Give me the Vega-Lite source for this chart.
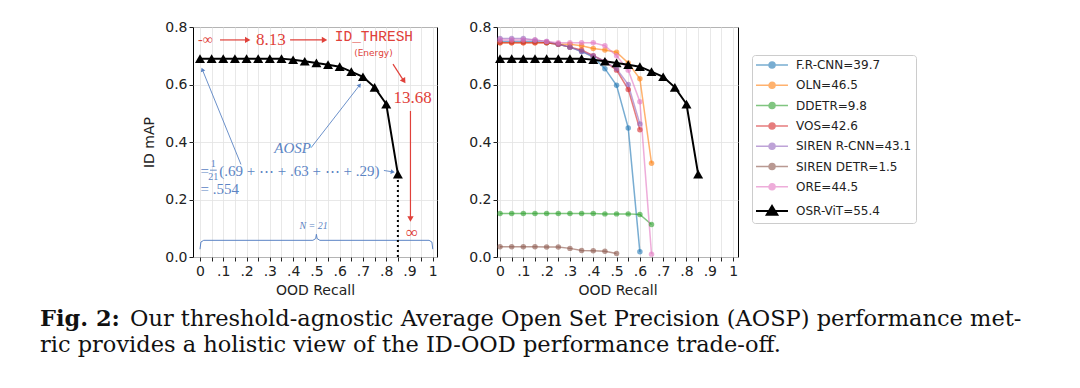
{
  "$schema": "https://vega.github.io/schema/vega-lite/v6.json",
  "background": "white",
  "padding": {"left": 40, "top": 19, "right": 0, "bottom": 0},
  "spacing": 1,
  "config": {
    "view": {"stroke": "#000000", "strokeWidth": 1},
    "axis": {
      "labelFont": "DejaVu Sans", "labelFontSize": 14, "labelColor": "#222222",
      "titleFont": "DejaVu Sans", "titleFontSize": 14, "titleFontWeight": "normal", "titleColor": "#222222",
      "tickColor": "#222222", "tickSize": 4, "tickWidth": 1,
      "gridColor": "#e2e2e2", "gridWidth": 0.8, "domain": false
    }
  },
  "datasets": {
    "curves": [
      {"series": "F.R-CNN=39.7", "x": 0.00, "y": 0.750}, {"series": "F.R-CNN=39.7", "x": 0.05, "y": 0.750}, {"series": "F.R-CNN=39.7", "x": 0.10, "y": 0.750}, {"series": "F.R-CNN=39.7", "x": 0.15, "y": 0.750}, {"series": "F.R-CNN=39.7", "x": 0.20, "y": 0.745}, {"series": "F.R-CNN=39.7", "x": 0.25, "y": 0.740}, {"series": "F.R-CNN=39.7", "x": 0.30, "y": 0.730}, {"series": "F.R-CNN=39.7", "x": 0.35, "y": 0.715}, {"series": "F.R-CNN=39.7", "x": 0.40, "y": 0.695}, {"series": "F.R-CNN=39.7", "x": 0.45, "y": 0.655}, {"series": "F.R-CNN=39.7", "x": 0.50, "y": 0.597}, {"series": "F.R-CNN=39.7", "x": 0.55, "y": 0.449}, {"series": "F.R-CNN=39.7", "x": 0.60, "y": 0.018},
      {"series": "OLN=46.5", "x": 0.00, "y": 0.745}, {"series": "OLN=46.5", "x": 0.05, "y": 0.745}, {"series": "OLN=46.5", "x": 0.10, "y": 0.745}, {"series": "OLN=46.5", "x": 0.15, "y": 0.745}, {"series": "OLN=46.5", "x": 0.20, "y": 0.745}, {"series": "OLN=46.5", "x": 0.25, "y": 0.740}, {"series": "OLN=46.5", "x": 0.30, "y": 0.740}, {"series": "OLN=46.5", "x": 0.35, "y": 0.735}, {"series": "OLN=46.5", "x": 0.40, "y": 0.725}, {"series": "OLN=46.5", "x": 0.45, "y": 0.720}, {"series": "OLN=46.5", "x": 0.50, "y": 0.712}, {"series": "OLN=46.5", "x": 0.55, "y": 0.675}, {"series": "OLN=46.5", "x": 0.60, "y": 0.620}, {"series": "OLN=46.5", "x": 0.65, "y": 0.326},
      {"series": "DDETR=9.8", "x": 0.00, "y": 0.151}, {"series": "DDETR=9.8", "x": 0.05, "y": 0.151}, {"series": "DDETR=9.8", "x": 0.10, "y": 0.151}, {"series": "DDETR=9.8", "x": 0.15, "y": 0.151}, {"series": "DDETR=9.8", "x": 0.20, "y": 0.151}, {"series": "DDETR=9.8", "x": 0.25, "y": 0.151}, {"series": "DDETR=9.8", "x": 0.30, "y": 0.151}, {"series": "DDETR=9.8", "x": 0.35, "y": 0.151}, {"series": "DDETR=9.8", "x": 0.40, "y": 0.151}, {"series": "DDETR=9.8", "x": 0.45, "y": 0.150}, {"series": "DDETR=9.8", "x": 0.50, "y": 0.150}, {"series": "DDETR=9.8", "x": 0.55, "y": 0.150}, {"series": "DDETR=9.8", "x": 0.60, "y": 0.148}, {"series": "DDETR=9.8", "x": 0.65, "y": 0.113},
      {"series": "VOS=42.6", "x": 0.00, "y": 0.745}, {"series": "VOS=42.6", "x": 0.05, "y": 0.745}, {"series": "VOS=42.6", "x": 0.10, "y": 0.745}, {"series": "VOS=42.6", "x": 0.15, "y": 0.745}, {"series": "VOS=42.6", "x": 0.20, "y": 0.745}, {"series": "VOS=42.6", "x": 0.25, "y": 0.740}, {"series": "VOS=42.6", "x": 0.30, "y": 0.730}, {"series": "VOS=42.6", "x": 0.35, "y": 0.720}, {"series": "VOS=42.6", "x": 0.40, "y": 0.700}, {"series": "VOS=42.6", "x": 0.45, "y": 0.680}, {"series": "VOS=42.6", "x": 0.50, "y": 0.650}, {"series": "VOS=42.6", "x": 0.55, "y": 0.583}, {"series": "VOS=42.6", "x": 0.60, "y": 0.443},
      {"series": "SIREN R-CNN=43.1", "x": 0.00, "y": 0.760}, {"series": "SIREN R-CNN=43.1", "x": 0.05, "y": 0.760}, {"series": "SIREN R-CNN=43.1", "x": 0.10, "y": 0.760}, {"series": "SIREN R-CNN=43.1", "x": 0.15, "y": 0.755}, {"series": "SIREN R-CNN=43.1", "x": 0.20, "y": 0.750}, {"series": "SIREN R-CNN=43.1", "x": 0.25, "y": 0.740}, {"series": "SIREN R-CNN=43.1", "x": 0.30, "y": 0.730}, {"series": "SIREN R-CNN=43.1", "x": 0.35, "y": 0.715}, {"series": "SIREN R-CNN=43.1", "x": 0.40, "y": 0.700}, {"series": "SIREN R-CNN=43.1", "x": 0.45, "y": 0.680}, {"series": "SIREN R-CNN=43.1", "x": 0.50, "y": 0.655}, {"series": "SIREN R-CNN=43.1", "x": 0.55, "y": 0.600}, {"series": "SIREN R-CNN=43.1", "x": 0.60, "y": 0.463},
      {"series": "SIREN DETR=1.5", "x": 0.00, "y": 0.036}, {"series": "SIREN DETR=1.5", "x": 0.05, "y": 0.036}, {"series": "SIREN DETR=1.5", "x": 0.10, "y": 0.036}, {"series": "SIREN DETR=1.5", "x": 0.15, "y": 0.036}, {"series": "SIREN DETR=1.5", "x": 0.20, "y": 0.035}, {"series": "SIREN DETR=1.5", "x": 0.25, "y": 0.035}, {"series": "SIREN DETR=1.5", "x": 0.30, "y": 0.030}, {"series": "SIREN DETR=1.5", "x": 0.35, "y": 0.023}, {"series": "SIREN DETR=1.5", "x": 0.40, "y": 0.022}, {"series": "SIREN DETR=1.5", "x": 0.45, "y": 0.020}, {"series": "SIREN DETR=1.5", "x": 0.50, "y": 0.012},
      {"series": "ORE=44.5", "x": 0.00, "y": 0.755}, {"series": "ORE=44.5", "x": 0.05, "y": 0.755}, {"series": "ORE=44.5", "x": 0.10, "y": 0.755}, {"series": "ORE=44.5", "x": 0.15, "y": 0.755}, {"series": "ORE=44.5", "x": 0.20, "y": 0.750}, {"series": "ORE=44.5", "x": 0.25, "y": 0.745}, {"series": "ORE=44.5", "x": 0.30, "y": 0.745}, {"series": "ORE=44.5", "x": 0.35, "y": 0.745}, {"series": "ORE=44.5", "x": 0.40, "y": 0.745}, {"series": "ORE=44.5", "x": 0.45, "y": 0.735}, {"series": "ORE=44.5", "x": 0.50, "y": 0.700}, {"series": "ORE=44.5", "x": 0.55, "y": 0.650}, {"series": "ORE=44.5", "x": 0.60, "y": 0.540}, {"series": "ORE=44.5", "x": 0.65, "y": 0.010},
      {"series": "OSR-ViT=55.4", "x": 0.00, "y": 0.690}, {"series": "OSR-ViT=55.4", "x": 0.05, "y": 0.690}, {"series": "OSR-ViT=55.4", "x": 0.10, "y": 0.690}, {"series": "OSR-ViT=55.4", "x": 0.15, "y": 0.690}, {"series": "OSR-ViT=55.4", "x": 0.20, "y": 0.690}, {"series": "OSR-ViT=55.4", "x": 0.25, "y": 0.690}, {"series": "OSR-ViT=55.4", "x": 0.30, "y": 0.690}, {"series": "OSR-ViT=55.4", "x": 0.35, "y": 0.690}, {"series": "OSR-ViT=55.4", "x": 0.40, "y": 0.686}, {"series": "OSR-ViT=55.4", "x": 0.45, "y": 0.681}, {"series": "OSR-ViT=55.4", "x": 0.50, "y": 0.675}, {"series": "OSR-ViT=55.4", "x": 0.55, "y": 0.669}, {"series": "OSR-ViT=55.4", "x": 0.60, "y": 0.662}, {"series": "OSR-ViT=55.4", "x": 0.65, "y": 0.645}, {"series": "OSR-ViT=55.4", "x": 0.70, "y": 0.627}, {"series": "OSR-ViT=55.4", "x": 0.75, "y": 0.590}, {"series": "OSR-ViT=55.4", "x": 0.80, "y": 0.532}, {"series": "OSR-ViT=55.4", "x": 0.85, "y": 0.288}
    ],
    "brace": [
      {"i": 0, "x": 0.0, "y": 0.027}, {"i": 1, "x": 0.004, "y": 0.052}, {"i": 2, "x": 0.016, "y": 0.058}, {"i": 3, "x": 0.485, "y": 0.058}, {"i": 4, "x": 0.497, "y": 0.064}, {"i": 5, "x": 0.5, "y": 0.079}, {"i": 6, "x": 0.503, "y": 0.064}, {"i": 7, "x": 0.515, "y": 0.058}, {"i": 8, "x": 0.984, "y": 0.058}, {"i": 9, "x": 0.996, "y": 0.052}, {"i": 10, "x": 1.0, "y": 0.027}
    ],
    "drop": [{"x": 0.85, "y": 0.0, "y2": 0.288}],
    "arrows": [
      {"grp": "red", "x": 0.086, "y": 0.755, "x2": 0.205, "y2": 0.755},
      {"grp": "red", "x": 0.387, "y": 0.755, "x2": 0.535, "y2": 0.755},
      {"grp": "red", "x": 0.829, "y": 0.671, "x2": 0.876, "y2": 0.612},
      {"grp": "red", "x": 0.904, "y": 0.508, "x2": 0.904, "y2": 0.132},
      {"grp": "blue", "x": 0.176, "y": 0.322, "x2": 0.01, "y2": 0.652},
      {"grp": "blue", "x": 0.477, "y": 0.38, "x2": 0.686, "y2": 0.598},
      {"grp": "blue", "x": 0.79, "y": 0.301, "x2": 0.828, "y2": 0.296},
      {"grp": "bar", "x": 0.043, "y": 0.302, "x2": 0.072, "y2": 0.302}
    ],
    "notes": [
      {"kind": "redsmall", "t": "-∞", "x": -0.008, "y": 0.755},
      {"kind": "red", "t": "8.13", "x": 0.305, "y": 0.755},
      {"kind": "mono", "t": "ID_THRESH", "x": 0.747, "y": 0.765},
      {"kind": "energy", "t": "(Energy)", "x": 0.745, "y": 0.71},
      {"kind": "red", "t": "13.68", "x": 0.913, "y": 0.553},
      {"kind": "red", "t": "∞", "x": 0.911, "y": 0.085},
      {"kind": "blue", "t": "=", "x": 0.002, "y": 0.3},
      {"kind": "frac", "t": "1", "x": 0.057, "y": 0.322},
      {"kind": "frac", "t": "21", "x": 0.057, "y": 0.279},
      {"kind": "blue", "t": "(.69 + ⋯ + .63 + ⋯ + .29)", "x": 0.083, "y": 0.3},
      {"kind": "blue", "t": "=  .554", "x": 0.002, "y": 0.235},
      {"kind": "italic", "t": "AOSP", "x": 0.398, "y": 0.38},
      {"kind": "nlabel", "t": "N = 21", "x": 0.488, "y": 0.108}
    ],
    "caption": [
      {"part": "fig", "line": 1, "text": "Fig. 2:"},
      {"part": "l1", "line": 1, "text": "Our threshold-agnostic Average Open Set Precision (AOSP) performance met-"},
      {"part": "l2", "line": 2, "text": "ric provides a holistic view of the ID-OOD performance trade-off."}
    ]
  },
  "vconcat": [
    {
      "spacing": 30,
      "resolve": {"scale": {"color": "independent"}, "legend": {"color": "independent"}},
      "hconcat": [
        {
          "width": 72,
          "height": 230,
          "view": {"stroke": null},
          "data": {"values": [{"t": ""}]},
          "mark": {"type": "text"},
          "encoding": {"text": {"field": "t"}}
        },
        {
          "width": 244,
          "height": 230,
          "encoding": {
            "x": {"field": "x", "type": "quantitative",
              "scale": {"domain": [-0.03, 1.018], "nice": false, "zero": false},
              "axis": {"title": "OOD Recall", "values": [0, 0.05, 0.1, 0.15, 0.2, 0.25, 0.3, 0.35, 0.4, 0.45, 0.5, 0.55, 0.6, 0.65, 0.7, 0.75, 0.8, 0.85, 0.9, 0.95, 1],
                "labelExpr": "round(datum.value*20) % 2 == 1 ? '' : (datum.value == 0 ? '0' : (datum.value > 0.999 ? '1' : replace(format(datum.value, '.1f'), '0.', '.')))",
                "labelFlush": false, "labelOverlap": false, "labelPadding": 3, "titlePadding": 5}},
            "y": {"field": "y", "type": "quantitative",
              "scale": {"domain": [0, 0.8], "nice": false, "zero": true},
              "axis": {"title": "ID mAP", "values": [0, 0.2, 0.4, 0.6, 0.8], "format": ".1f", "labelPadding": 2, "titlePadding": 8}}
          },
          "layer": [
            {"data": {"name": "brace"}, "mark": {"type": "line", "color": "#5b84c4", "strokeWidth": 1}, "encoding": {"order": {"field": "i", "type": "quantitative"}}},
            {"data": {"name": "drop"}, "mark": {"type": "rule", "color": "#000000", "strokeWidth": 2, "strokeDash": [2, 3]}, "encoding": {"y2": {"field": "y2"}}},
            {"data": {"name": "curves"}, "transform": [{"filter": "datum.series === 'OSR-ViT=55.4'"}], "mark": {"type": "line", "color": "#000000", "strokeWidth": 2}},
            {"data": {"name": "curves"}, "transform": [{"filter": "datum.series === 'OSR-ViT=55.4'"}], "mark": {"type": "point", "shape": "triangle-up", "filled": true, "color": "#000000", "size": 100, "opacity": 1}},
            {"data": {"name": "arrows"}, "transform": [{"filter": "datum.grp === 'red'"}], "mark": {"type": "rule", "color": "#e0413a", "strokeWidth": 1.2}, "encoding": {"x2": {"field": "x2"}, "y2": {"field": "y2"}}},
            {"data": {"name": "arrows"}, "transform": [{"filter": "datum.grp !== 'red'"}], "mark": {"type": "rule", "color": "#5b84c4", "strokeWidth": 0.9}, "encoding": {"x2": {"field": "x2"}, "y2": {"field": "y2"}}},
            {"data": {"name": "arrows"}, "transform": [{"filter": "datum.grp === 'red'"}, {"calculate": "atan2((datum.x2-datum.x)*232.7, (datum.y2-datum.y)*287.5)*180/PI", "as": "ang"}], "mark": {"type": "point", "shape": "triangle-up", "filled": true, "color": "#e0413a", "size": 40, "opacity": 1}, "encoding": {"x": {"field": "x2", "type": "quantitative"}, "y": {"field": "y2", "type": "quantitative"}, "angle": {"field": "ang", "type": "quantitative", "scale": null}}},
            {"data": {"name": "arrows"}, "transform": [{"filter": "datum.grp === 'blue'"}, {"calculate": "atan2((datum.x2-datum.x)*232.7, (datum.y2-datum.y)*287.5)*180/PI", "as": "ang"}], "mark": {"type": "point", "shape": "triangle-up", "filled": true, "color": "#5b84c4", "size": 22, "opacity": 1}, "encoding": {"x": {"field": "x2", "type": "quantitative"}, "y": {"field": "y2", "type": "quantitative"}, "angle": {"field": "ang", "type": "quantitative", "scale": null}}},
            {"data": {"name": "notes"}, "transform": [{"filter": "datum.kind === 'red'"}], "mark": {"type": "text", "font": "Liberation Serif", "fontSize": 17, "color": "#e0413a", "align": "center", "baseline": "middle"}, "encoding": {"text": {"field": "t"}}},
            {"data": {"name": "notes"}, "transform": [{"filter": "datum.kind === 'redsmall'"}], "mark": {"type": "text", "font": "Liberation Serif", "fontSize": 14, "color": "#e0413a", "align": "left", "baseline": "middle"}, "encoding": {"text": {"field": "t"}}},
            {"data": {"name": "notes"}, "transform": [{"filter": "datum.kind === 'mono'"}], "mark": {"type": "text", "font": "Liberation Mono", "fontSize": 14.5, "color": "#e0413a", "align": "center", "baseline": "middle"}, "encoding": {"text": {"field": "t"}}},
            {"data": {"name": "notes"}, "transform": [{"filter": "datum.kind === 'energy'"}], "mark": {"type": "text", "font": "DejaVu Sans", "fontSize": 9, "color": "#e0413a", "align": "center", "baseline": "middle"}, "encoding": {"text": {"field": "t"}}},
            {"data": {"name": "notes"}, "transform": [{"filter": "datum.kind === 'blue'"}], "mark": {"type": "text", "font": "Liberation Serif", "fontSize": 15, "color": "#5b84c4", "align": "left", "baseline": "middle"}, "encoding": {"text": {"field": "t"}}},
            {"data": {"name": "notes"}, "transform": [{"filter": "datum.kind === 'frac'"}], "mark": {"type": "text", "font": "Liberation Serif", "fontSize": 10, "color": "#5b84c4", "align": "center", "baseline": "middle"}, "encoding": {"text": {"field": "t"}}},
            {"data": {"name": "notes"}, "transform": [{"filter": "datum.kind === 'italic'"}], "mark": {"type": "text", "font": "Liberation Serif", "fontStyle": "italic", "fontSize": 15, "color": "#5b84c4", "align": "center", "baseline": "middle"}, "encoding": {"text": {"field": "t"}}},
            {"data": {"name": "notes"}, "transform": [{"filter": "datum.kind === 'nlabel'"}], "mark": {"type": "text", "font": "Liberation Serif", "fontStyle": "italic", "fontSize": 10, "color": "#5b84c4", "align": "center", "baseline": "middle"}, "encoding": {"text": {"field": "t"}}}
          ]
        },
        {
          "width": 241,
          "height": 230,
          "data": {"name": "curves"},
          "encoding": {
            "x": {"field": "x", "type": "quantitative",
              "scale": {"domain": [-0.013, 1.021], "nice": false, "zero": false},
              "axis": {"title": "OOD Recall", "values": [0, 0.05, 0.1, 0.15, 0.2, 0.25, 0.3, 0.35, 0.4, 0.45, 0.5, 0.55, 0.6, 0.65, 0.7, 0.75, 0.8, 0.85, 0.9, 0.95, 1],
                "labelExpr": "round(datum.value*20) % 2 == 1 ? '' : (datum.value == 0 ? '0' : (datum.value > 0.999 ? '1' : replace(format(datum.value, '.1f'), '0.', '.')))",
                "labelFlush": false, "labelOverlap": false, "labelPadding": 3, "titlePadding": 5}},
            "y": {"field": "y", "type": "quantitative",
              "scale": {"domain": [0, 0.8], "nice": false, "zero": true},
              "axis": {"title": null, "values": [0, 0.2, 0.4, 0.6, 0.8], "format": ".1f", "labelPadding": 2}},
            "color": {"field": "series", "type": "nominal",
              "scale": {"domain": ["F.R-CNN=39.7", "OLN=46.5", "DDETR=9.8", "VOS=42.6", "SIREN R-CNN=43.1", "SIREN DETR=1.5", "ORE=44.5", "OSR-ViT=55.4"],
                "range": ["#1f77b4", "#ff7f0e", "#2ca02c", "#d62728", "#9467bd", "#8c564b", "#e377c2", "#000000"]},
              "legend": {
                "orient": "none", "legendX": 255, "legendY": 28, "title": null,
                "symbolType": {"expr": "datum.value === 'OSR-ViT=55.4' ? 'M-1,0H4.33M1.67,-0.85L2.55,0.6L0.79,0.6Z' : 'M-1,0H4.33M1.17,0A0.5,0.5 0 1,0 2.17,0A0.5,0.5 0 1,0 1.17,0'"},
                "symbolSize": 144,
                "symbolStrokeWidth": {"expr": "datum.value === 'OSR-ViT=55.4' ? 2 : 1.5"},
                "symbolOpacity": {"expr": "datum.value === 'OSR-ViT=55.4' ? 1 : 0.6"},
                "symbolFillColor": {"expr": "['#1f77b4','#ff7f0e','#2ca02c','#d62728','#9467bd','#8c564b','#e377c2','#000000'][indexof(['F.R-CNN=39.7','OLN=46.5','DDETR=9.8','VOS=42.6','SIREN R-CNN=43.1','SIREN DETR=1.5','ORE=44.5','OSR-ViT=55.4'], datum.value)]"},
                "labelFont": "DejaVu Sans", "labelFontSize": 12, "labelColor": "#222222", "labelOffset": 28,
                "strokeColor": "#cccccc", "fillColor": "#ffffff", "padding": 4, "cornerRadius": 3, "rowPadding": 8.3
              }}
          },
          "layer": [
            {"transform": [{"filter": "datum.series !== 'OSR-ViT=55.4'"}], "mark": {"type": "line", "strokeWidth": 1.5, "opacity": 0.6}},
            {"transform": [{"filter": "datum.series !== 'OSR-ViT=55.4'"}], "mark": {"type": "point", "shape": "circle", "filled": true, "size": 30, "opacity": 0.6}},
            {"transform": [{"filter": "datum.series === 'OSR-ViT=55.4'"}], "mark": {"type": "line", "strokeWidth": 2, "opacity": 1}},
            {"transform": [{"filter": "datum.series === 'OSR-ViT=55.4'"}], "mark": {"type": "point", "shape": "triangle-up", "filled": true, "size": 100, "opacity": 1}}
          ]
        }
      ]
    },
    {
      "width": 1000,
      "height": 53,
      "data": {"name": "caption"},
      "view": {"stroke": null},
      "encoding": {
        "y": {"field": "line", "type": "quantitative", "scale": {"domain": [0, 2], "reverse": true, "nice": false}, "axis": null},
        "text": {"field": "text"}
      },
      "layer": [
        {"transform": [{"filter": "datum.part === 'fig'"}], "mark": {"type": "text", "font": "DejaVu Serif", "fontWeight": "bold", "fontSize": 22.5, "align": "left", "baseline": "alphabetic", "color": "#111111"},
          "encoding": {"x": {"datum": 0, "type": "quantitative", "scale": {"domain": [0, 1], "nice": false, "zero": false}, "axis": null}}},
        {"transform": [{"filter": "datum.part === 'l1'"}], "mark": {"type": "text", "font": "DejaVu Serif", "fontSize": 22.5, "align": "left", "baseline": "alphabetic", "color": "#111111"},
          "encoding": {"x": {"datum": 0.09, "type": "quantitative", "scale": {"domain": [0, 1], "nice": false, "zero": false}, "axis": null}}},
        {"transform": [{"filter": "datum.part === 'l2'"}], "mark": {"type": "text", "font": "DejaVu Serif", "fontSize": 22.5, "align": "left", "baseline": "alphabetic", "color": "#111111"},
          "encoding": {"x": {"datum": 0, "type": "quantitative", "scale": {"domain": [0, 1], "nice": false, "zero": false}, "axis": null}}}
      ]
    }
  ]
}
